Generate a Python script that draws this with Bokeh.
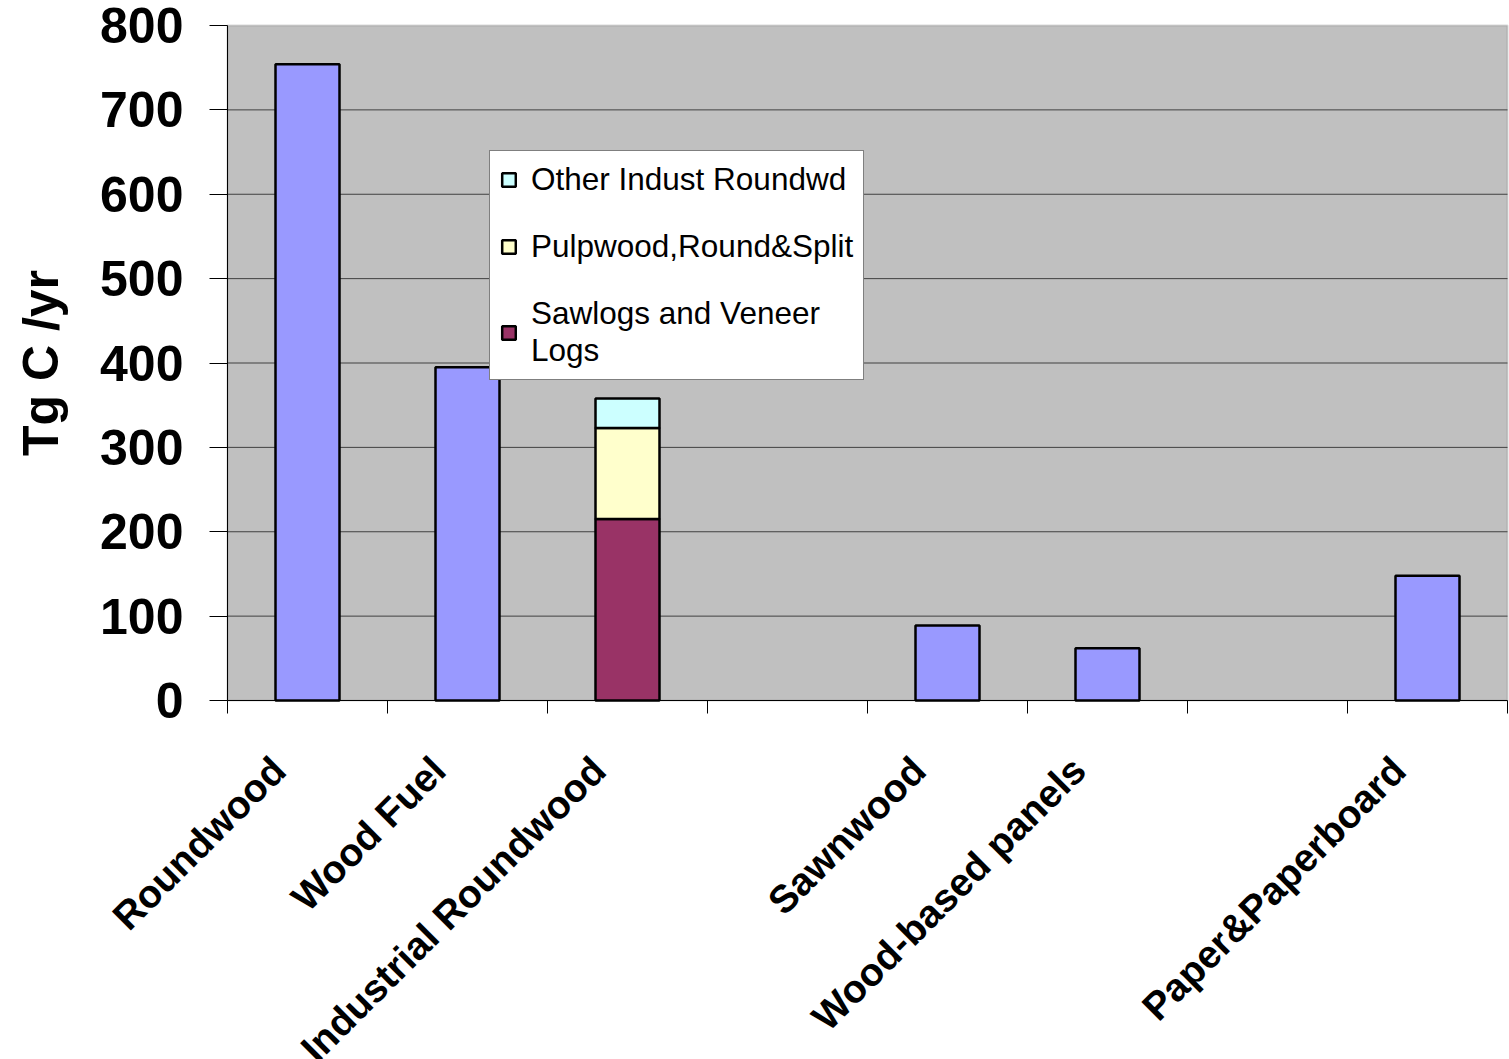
import numpy as np
from bokeh.plotting import figure
from bokeh.models import (FixedTicker, Legend, LegendItem, ColumnDataSource,
                          Range1d, BoxAnnotation)
from bokeh.embed import file_html
from bokeh.resources import INLINE

# ---- data ----
slots = ["Roundwood", "Wood Fuel", "Industrial Roundwood", "", "Sawnwood",
         "Wood-based panels", "", "Paper&Paperboard"]
single_names = ["Roundwood", "Wood Fuel", "Sawnwood", "Wood-based panels", "Paper&Paperboard"]
single_values = [754, 395, 89, 62, 148]
stack_name = "Industrial Roundwood"
stack_series = ["Sawlogs and Veneer Logs", "Pulpwood,Round&Split", "Other Indust Roundwd"]
stack_values = [215, 108, 35]
stack_colors = ["#993366", "#FFFFCC", "#CCFFFF"]
y_ticks = [0, 100, 200, 300, 400, 500, 600, 700, 800]
y_max = 800

centers = {name: i + 0.5 for i, name in enumerate(slots) if name}
n_slots = len(slots)

# ---- layout (pixels) ----
W, H = 1509, 1059
X0_PX, Y0_PX = 227, 700        # pixel position of data origin
SLOT_PX = 160                  # pixels per category slot
YMAX_PX = 25                   # pixel position of y_max
y_per_px = y_max / (Y0_PX - YMAX_PX)

x_range = Range1d(-X0_PX / SLOT_PX, (W - X0_PX) / SLOT_PX)
y_range = Range1d(-(H - Y0_PX) * y_per_px, Y0_PX * y_per_px)

p = figure(width=W, height=H, x_range=x_range, y_range=y_range,
           output_backend="svg", toolbar_location=None,
           min_border_left=0, min_border_right=0, min_border_top=0, min_border_bottom=0)
p.background_fill_color = "white"
p.border_fill_color = "white"
p.outline_line_color = None

# gray plot area
p.add_layout(BoxAnnotation(left=0, right=n_slots, bottom=0, top=y_max,
                           fill_color="#C0C0C0", fill_alpha=1,
                           line_color="#808080", line_width=2, level="underlay"))

# horizontal grid lines limited to the plot area
p.xgrid.visible = False
p.ygrid.visible = False
grid_y = [t for t in y_ticks if 0 < t < y_max]
p.segment(x0=[0] * len(grid_y), x1=[n_slots] * len(grid_y), y0=grid_y, y1=grid_y,
          line_color="#404040", line_width=1)

# y axis
ya = p.yaxis[0]
ya.fixed_location = 0
ya.ticker = FixedTicker(ticks=y_ticks)
ya.bounds = (0, y_max)
ya.major_tick_out = 18
ya.major_tick_in = 0
ya.minor_tick_out = 0
ya.minor_tick_in = 0
ya.major_label_standoff = 26
ya.major_label_text_font = "Liberation Sans"
ya.major_label_text_font_style = "bold"
ya.major_label_text_font_size = "50px"
ya.major_label_text_color = "black"
ya.axis_label = "Tg C /yr"
ya.axis_label_text_font = "Liberation Sans"
ya.axis_label_text_font_style = "bold"
ya.axis_label_text_font_size = "50px"
ya.axis_label_text_color = "black"
ya.axis_label_standoff = 28
ya.axis_line_color = "black"

# x axis: labels placed slightly left of slot centre (as in the original)
LABEL_SHIFT = -0.18
label_pos = {k: v + LABEL_SHIFT for k, v in centers.items()}
xa = p.xaxis[0]
xa.fixed_location = 0
xa.bounds = (0, n_slots)
xa.ticker = FixedTicker(ticks=list(label_pos.values()),
                        minor_ticks=list(range(n_slots + 1)))
xa.major_label_overrides = {v: k for k, v in label_pos.items()}
xa.major_label_orientation = np.pi / 4
xa.major_tick_out = 0
xa.major_tick_in = 0
xa.minor_tick_out = 13
xa.minor_tick_in = 0
xa.major_label_standoff = 50
xa.major_label_text_font = "Liberation Sans"
xa.major_label_text_font_style = "bold"
xa.major_label_text_font_size = "39px"
xa.major_label_text_color = "black"
xa.axis_line_color = "black"

# single bars
src = ColumnDataSource(dict(x=[centers[n] for n in single_names], top=single_values))
p.vbar(x="x", top="top", width=0.4, source=src, fill_color="#9999FF", line_color="black",
       line_width=2.5)

# stacked bar
renderers = []
bottom = 0
for name, val, col in zip(stack_series, stack_values, stack_colors):
    r = p.vbar(x=[centers[stack_name]], bottom=[bottom], top=[bottom + val], width=0.4,
               fill_color=col, line_color="black", line_width=2.5)
    renderers.append(r)
    bottom += val

# legend
items = [LegendItem(label="Other Indust Roundwd", renderers=[renderers[2]]),
         LegendItem(label="Pulpwood,Round&Split", renderers=[renderers[1]]),
         LegendItem(label="Sawlogs and Veneer\nLogs", renderers=[renderers[0]])]
legend = Legend(items=items, location=(489, H - 380), orientation="vertical",
                background_fill_color="white", background_fill_alpha=1,
                border_line_color="black", border_line_width=1,
                label_text_font="Liberation Sans", label_text_font_size="31.5px",
                label_text_color="black", label_text_line_height=1.3,
                glyph_width=17, glyph_height=17, label_standoff=14,
                spacing=30, padding=10, margin=0)
p.add_layout(legend)

open("out.html", "w").write(file_html(p, INLINE))
